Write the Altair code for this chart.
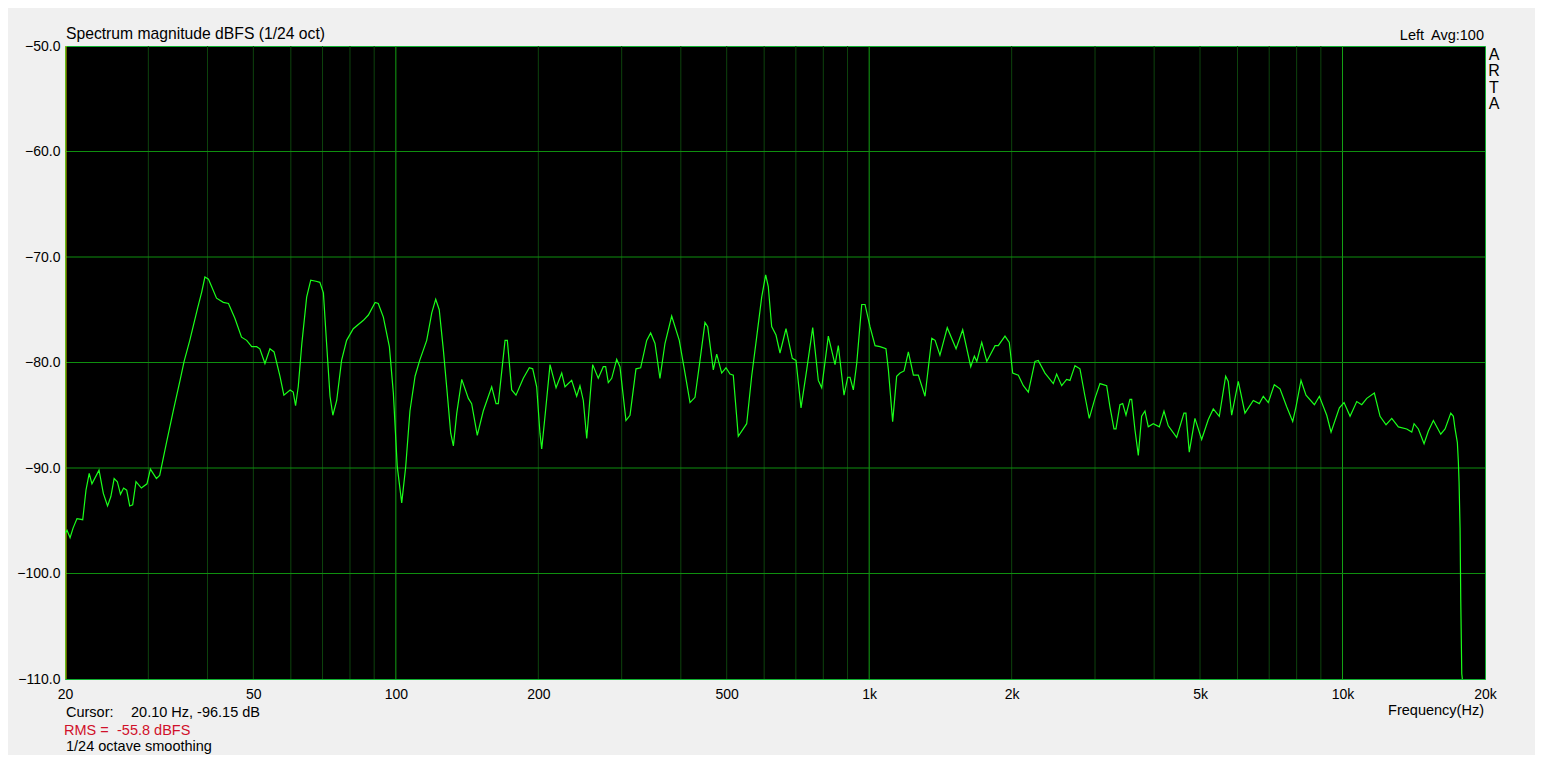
import altair as alt
import pandas as pd

# ---- data ----
freq_hz = [
    20.0, 20.2, 20.5, 20.8, 21.2, 21.8, 22.15, 22.5, 22.8, 23.6, 24.1, 24.6, 25.0, 25.4, 25.8,
    26.2, 26.6, 27.0, 27.4, 27.8, 28.25, 29.0, 29.8, 30.3, 31.2, 31.7, 32.8, 33.9, 34.4, 35.0,
    35.7, 36.7, 38.1, 38.9, 39.5, 40.2, 41.8, 43.2, 44.3, 45.7, 47.2, 48.4, 49.6, 50.8, 51.6,
    52.9, 54.2, 55.3, 56.9, 58.0, 59.8, 60.7, 61.4, 62.2, 63.3, 64.8, 66.1, 67.8, 69.1, 70.3,
    71.4, 72.6, 73.6, 75.0, 76.8, 78.7, 81.3, 85.4, 87.5, 90.4, 91.8, 94.1, 96.9, 98.8, 100.7,
    102.9, 104.9, 107.1, 109.8, 112.3, 116.2, 119.1, 121.4, 123.5, 126.0, 128.4, 130.6, 132.3, 134.5, 137.8,
    142.3, 144.6, 148.6, 153.0, 159.4, 162.8, 164.6, 170.1, 172.0, 175.7, 179.4, 185.9, 191.4, 194.6, 198.4,
    201.6, 203.3, 206.6, 211.7, 218.0, 224.1, 227.7, 235.2, 241.0, 244.9, 248.9, 253.1, 260.5, 267.7, 274.3,
    277.5, 281.1, 285.8, 292.8, 297.5, 306.3, 312.4, 321.6, 329.0, 338.8, 345.4, 352.8, 361.4, 370.3, 382.6,
    397.0, 408.2, 418.3, 428.6, 439.1, 449.9, 455.9, 468.5, 476.3, 488.0, 498.3, 508.1, 516.3, 529.0, 551.1,
    564.6, 578.5, 592.8, 604.4, 612.1, 622.3, 635.5, 648.0, 667.2, 688.0, 700.5, 717.8, 737.9, 759.8, 780.8,
    793.8, 819.7, 846.9, 860.6, 884.8, 900.9, 911.0, 925.8, 941.2, 964.4, 980.0, 1004, 1029, 1054, 1085,
    1098, 1121, 1143, 1162, 1185, 1210, 1240, 1270, 1312, 1356, 1378, 1411, 1462, 1526, 1576,
    1639, 1668, 1688, 1729, 1772, 1845, 1874, 1936, 1977, 2010, 2066, 2117, 2169, 2240, 2276,
    2352, 2449, 2489, 2551, 2613, 2656, 2721, 2788, 2857, 2917, 2999, 3073, 3175, 3226, 3290,
    3322, 3387, 3432, 3488, 3556, 3586, 3644, 3703, 3764, 3825, 3887, 3983, 4101, 4196, 4284,
    4463, 4624, 4669, 4745, 4878, 5040, 5205, 5333, 5491, 5664, 5736, 5832, 6023, 6222, 6479,
    6671, 6802, 6969, 7176, 7378, 7622, 7848, 7975, 8172, 8373, 8721, 8935, 9262, 9458, 9848,
    10075, 10374, 10717, 10981, 11252, 11675, 12004, 12359, 12707, 13121, 13669, 14006, 14164, 14463, 14870,
    15184, 15558, 16128, 16469, 16932, 17147, 17290, 17484, 17569, 17629, 17715, 17775, 17862, 17914,
]
level_db = [
    -96.2, -95.9, -96.6, -95.7, -94.8, -94.9, -92.1, -90.5, -91.5, -90.2, -92.4, -93.6, -92.7, -91.0, -91.3,
    -92.5, -91.9, -92.1, -93.6, -93.5, -91.3, -91.9, -91.5, -90.1, -91.0, -90.7, -87.5, -84.5, -83.2, -81.7,
    -79.9, -77.9, -74.9, -73.3, -71.9, -72.1, -73.9, -74.3, -74.4, -75.8, -77.6, -77.9, -78.5, -78.5, -78.7,
    -80.1, -78.7, -79.0, -81.3, -83.1, -82.6, -82.8, -84.1, -82.3, -78.2, -73.8, -72.2, -72.3, -72.4, -73.4,
    -78.2, -83.2, -85.0, -83.6, -79.8, -77.9, -76.8, -76.0, -75.5, -74.3, -74.4, -75.7, -78.5, -82.9, -89.9,
    -93.3, -89.9, -84.6, -81.3, -79.8, -77.9, -75.3, -74.0, -75.0, -78.8, -82.9, -86.7, -87.9, -84.8, -81.6,
    -83.4, -83.9, -86.9, -84.6, -82.3, -83.9, -83.9, -77.9, -77.9, -82.6, -83.1, -81.5, -80.5, -80.6, -82.3,
    -86.7, -88.2, -85.1, -80.2, -82.4, -81.0, -82.3, -81.7, -83.2, -82.2, -83.6, -87.2, -80.2, -81.5, -80.4,
    -80.4, -81.9, -81.5, -79.7, -80.4, -85.5, -85.0, -80.6, -80.5, -77.9, -77.2, -78.2, -81.5, -78.2, -75.6,
    -77.9, -81.0, -83.8, -83.3, -79.8, -76.2, -76.6, -80.7, -79.2, -81.0, -80.5, -81.1, -81.2, -87.0, -85.8,
    -81.3, -77.6, -73.8, -71.7, -72.8, -76.6, -77.4, -79.1, -76.8, -79.6, -79.8, -84.3, -80.7, -76.7, -81.7,
    -82.4, -77.5, -80.2, -78.4, -83.1, -81.4, -81.4, -82.6, -80.1, -74.5, -74.5, -76.6, -78.4, -78.5, -78.7,
    -80.7, -85.6, -81.3, -81.0, -80.8, -79.0, -81.2, -81.2, -83.2, -77.7, -77.9, -79.3, -76.7, -78.7, -76.9,
    -80.4, -79.4, -79.9, -78.1, -79.9, -78.4, -78.4, -77.5, -78.1, -81.0, -81.2, -82.2, -82.8, -79.9, -79.8,
    -81.0, -82.0, -81.1, -82.2, -81.6, -81.7, -80.3, -80.6, -83.2, -85.3, -83.4, -82.0, -82.2, -84.2, -86.3,
    -86.3, -84.0, -83.9, -85.0, -83.5, -83.5, -86.4, -88.8, -85.1, -84.6, -86.1, -85.8, -86.1, -84.6, -86.0,
    -87.1, -84.8, -84.8, -88.5, -85.3, -87.3, -85.4, -84.4, -85.1, -81.3, -81.8, -85.0, -81.8, -84.8, -83.6,
    -83.9, -83.2, -83.8, -82.1, -82.5, -84.2, -85.6, -84.2, -81.7, -83.1, -84.0, -83.2, -85.0, -86.6, -84.3,
    -83.8, -85.1, -83.7, -84.0, -83.4, -82.9, -85.1, -85.9, -85.3, -86.1, -86.3, -86.6, -85.8, -86.3, -87.7,
    -86.5, -85.5, -86.8, -86.3, -84.8, -85.1, -86.3, -87.6, -89.4, -91.3, -95.7, -102.5, -109.5, -110.0,
]

x_tick_values = [20, 50, 100, 200, 500, 1000, 2000, 5000, 10000, 20000]
y_tick_values = [-110, -100, -90, -80, -70, -60, -50]
minor_grid_hz = [30, 40, 50, 60, 70, 80, 90,
                 200, 300, 400, 500, 600, 700, 800, 900,
                 2000, 3000, 4000, 5000, 6000, 7000, 8000, 9000]
decade_grid_hz = [100, 1000, 10000]
level_grid_db = [-60, -70, -80, -90, -100]
cursor_hz = [20.1]

FONT = "Liberation Sans"

x_scale = alt.Scale(type="log", domain=[20, 20000], nice=False)
y_scale = alt.Scale(domain=[-110, -50], nice=False, zero=False)

x_axis = alt.Axis(
    values=x_tick_values,
    labelExpr="datum.value >= 1000 ? (datum.value / 1000) + 'k' : datum.value",
    title=None, grid=False, domain=False, ticks=False,
    labelFont=FONT, labelFontSize=14, labelColor="#000000",
    labelPadding=8, labelFlush=False, labelOverlap=False,
)
y_axis = alt.Axis(
    values=y_tick_values, format=".1f", title=None, grid=False, domain=False,
    ticks=False, labelFont=FONT, labelFontSize=14, labelColor="#000000",
    labelPadding=5,
)

spec = pd.DataFrame({"freq": freq_hz, "db": level_db})

minor = alt.Chart(pd.DataFrame({"f": minor_grid_hz})).mark_rule(
    color="#0d430d", strokeWidth=1
).encode(x=alt.X("f:Q", scale=x_scale, axis=x_axis))

decade = alt.Chart(pd.DataFrame({"f": decade_grid_hz})).mark_rule(
    color="#14a014", strokeWidth=1
).encode(x=alt.X("f:Q", scale=x_scale))

hgrid = alt.Chart(pd.DataFrame({"d": level_grid_db})).mark_rule(
    color="#0f8f0f", strokeWidth=1
).encode(y=alt.Y("d:Q", scale=y_scale, axis=y_axis))

cursor = alt.Chart(pd.DataFrame({"f": cursor_hz})).mark_rule(
    color="#c8c800", strokeWidth=1
).encode(x=alt.X("f:Q", scale=x_scale))

line = alt.Chart(spec).mark_line(
    color="#1aff1a", strokeWidth=1.2, clip=True, interpolate="linear"
).encode(
    x=alt.X("freq:Q", scale=x_scale),
    y=alt.Y("db:Q", scale=y_scale),
)

def label(text, x, y, align="left", color="#000000", size=14.5, **kw):
    return alt.Chart(pd.DataFrame({"t": [text]})).mark_text(
        align=align, baseline="alphabetic", font=FONT, fontSize=size,
        color=color, **kw
    ).encode(x=alt.value(x), y=alt.value(y), text="t:N")

RED = "#d0102a"
texts = [
    label("Spectrum magnitude dBFS (1/24 oct)", 1, -7, size=15.7),
    label("Left", 1359, -6, align="right"),
    label("Avg:100", 1419, -6, align="right"),
    label("A\nR\nT\nA", 1429, 14, align="center", size=16, lineBreak="\n", lineHeight=16.3),
    label("Cursor:", 1, 671),
    label("20.10 Hz, -96.15 dB", 66, 671),
    label("RMS =", -1, 689, color=RED),
    label("-55.8 dBFS", 52, 689, color=RED),
    label("1/24 octave smoothing", 1, 705),
    label("Frequency(Hz)", 1419, 669, align="right"),
]

chart = alt.layer(minor, decade, hgrid, cursor, line, *texts).properties(
    width=1420, height=633,
    autosize=alt.AutoSizeParams(type="none"),
    padding={"left": 57, "top": 38, "right": 50, "bottom": 76},
    background="#f0f0f0",
).configure_view(
    fill="#000000", stroke="#10b030", strokeWidth=1
)

chart.save("out.html", embed_options={"renderer": "svg", "actions": False})
